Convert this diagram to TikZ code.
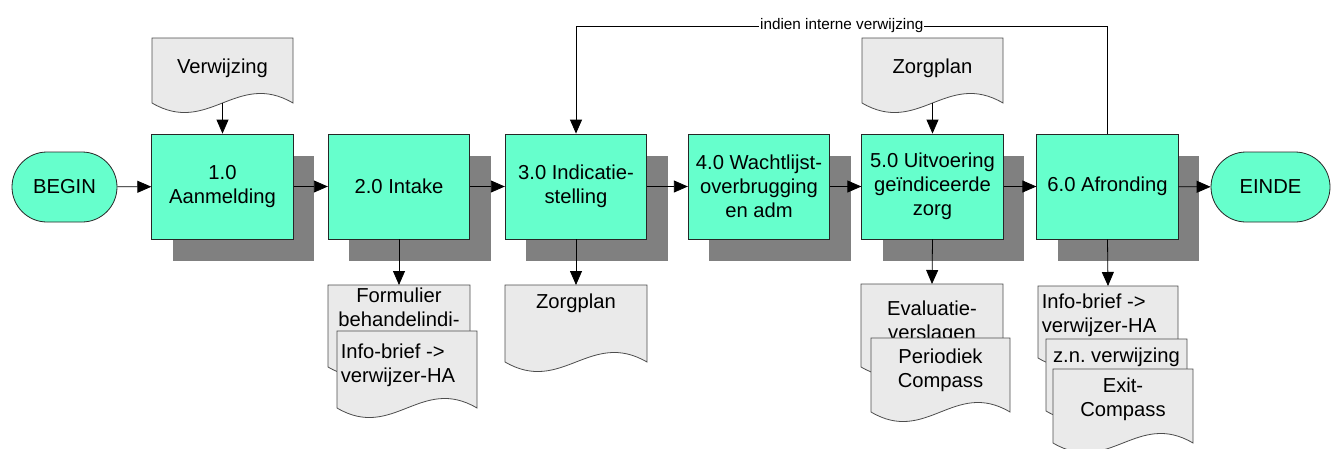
\documentclass[tikz,border=0pt]{standalone}
\usepackage{fontspec}
\setmainfont{Liberation Sans}
\usetikzlibrary{arrows.meta,shadows}
\definecolor{mint}{HTML}{66FFCC}
\definecolor{docfill}{HTML}{EAEAEA}
\definecolor{shadowgray}{HTML}{808080}
\newcommand{\boxfont}{\fontsize{20.2}{24}\selectfont}
\newcommand{\labelfont}{\fontsize{15.3}{18}\selectfont}
\tikzset{ % common looks of the flowchart
	procbox/.style={draw=black!85, fill=mint, line width=0.8pt,
		minimum width=141.5pt, minimum height=105pt, inner sep=2pt,
		align=center, font=\boxfont,
		drop shadow={shadow xshift=21pt, shadow yshift=-22pt, fill=shadowgray, opacity=1}},
	terminal/.style={draw=black!85, fill=mint, line width=0.8pt,
		rounded corners=35pt, minimum height=70pt, font=\boxfont},
	docshape/.style={draw=black!70, fill=docfill, line width=0.8pt},
	doctext/.style={anchor=north, inner sep=0pt, align=center, font=\boxfont},
	flow/.style={draw=black, line width=0.8pt, -{Triangle[length=14pt,width=12pt]}},
}
% document symbol: name, left x, top y, width, height, first baseline, text
\newcommand{\flowdoc}[8][]{%
	\draw[docshape] (#3,#4) -- (#3+#5,#4) -- (#3+#5,#4+#6)
		.. controls (#3+0.6*#5,#4+#6-33) and (#3+0.4*#5,#4+#6+33) .. (#3,#4+#6) -- cycle;
	\coordinate (#2-top) at (#3+0.5*#5,#4);
	\coordinate (#2-bot) at (#3+0.5*#5,#4+#6);
	\node[doctext,#1] (#2) at (#3+0.5*#5,#7-14.7) {#8};
}
\begin{document}
\frenchspacing
\begin{tikzpicture}[x=1pt,y=-1pt]
	\useasboundingbox (0,0) rectangle (1338,448);
	% Terminals
	\node[terminal, minimum width=105pt] (begin) at (64.5,187) {BEGIN};
	\node[terminal, minimum width=119pt] (einde) at (1270.5,187) {EINDE};
	% Process steps
	\node[procbox] (b1) at (222.5,186.5) {1.0\\Aanmelding};
	\node[procbox] (b2) at (399,186.5) {2.0 Intake};
	\node[procbox] (b3) at (576,186.5) {3.0 Indicatie-\\stelling};
	\node[procbox] (b4) at (759,186.5) {4.0 Wachtlijst-\\overbrugging\\en adm};
	\node[procbox] (b5) at (932.5,186.5) {5.0 Uitvoering\\geïndiceerde\\zorg};
	\node[procbox] (b6) at (1107.5,186.5) {6.0 Afronding};
	% Documents in
	\flowdoc{verw}{152}{38}{141}{65}{73}{Verwijzing}
	\flowdoc{zptop}{862}{38}{141}{65}{73}{Zorgplan}
	% Documents out
	\flowdoc{form}{328}{285}{142}{82}{302}{Formulier\\behandelindi-}
	\flowdoc[align=left,xshift=-9pt]{infoa}{337}{331}{140}{77}{358}{Info-brief ->\\verwijzer-HA}
	\flowdoc{zpbot}{505}{285}{142}{77}{308}{Zorgplan}
	\flowdoc{eval}{861}{284}{142}{83}{315}{Evaluatie-\\verslagen}
	\flowdoc{peri}{871}{338}{139}{74}{363}{Periodiek\\Compass}
	\flowdoc[align=left,xshift=-9pt]{infob}{1038}{286}{140}{72}{308}{Info-brief ->\\verwijzer-HA}
	\flowdoc{zn}{1046}{339}{141}{72}{362}{z.n. verwijzing}
	\flowdoc{exit}{1053}{369}{140}{74}{392}{Exit-\\Compass}
	% Main flow
	\draw[flow] (begin) -- (b1);
	\draw[flow] (b1) -- (b2);
	\draw[flow] (b2) -- (b3);
	\draw[flow] (b3) -- (b4);
	\draw[flow] (b4) -- (b5);
	\draw[flow] (b5) -- (b6);
	\draw[flow] (b6) -- (einde);
	% Documents
	\draw[flow] (verw-bot) -- (b1.north);
	\draw[flow] (zptop-bot) -- (b5.north);
	\draw[flow] (b2.south) -- (form-top);
	\draw[flow] (b3.south) -- (zpbot-top);
	\draw[flow] (b5.south) -- (eval-top);
	\draw[flow] (b6.south) -- (infob-top);
	% Loop back
	\coordinate (loop) at (0,26);
	\draw[flow] (b6.north) -- (b6.north |- loop) -- (b3.north |- loop)
		node[midway, fill=white, inner sep=1pt, font=\labelfont] (looplabel) {indien interne verwijzing}
		-- (b3.north);
\end{tikzpicture}
\end{document}
